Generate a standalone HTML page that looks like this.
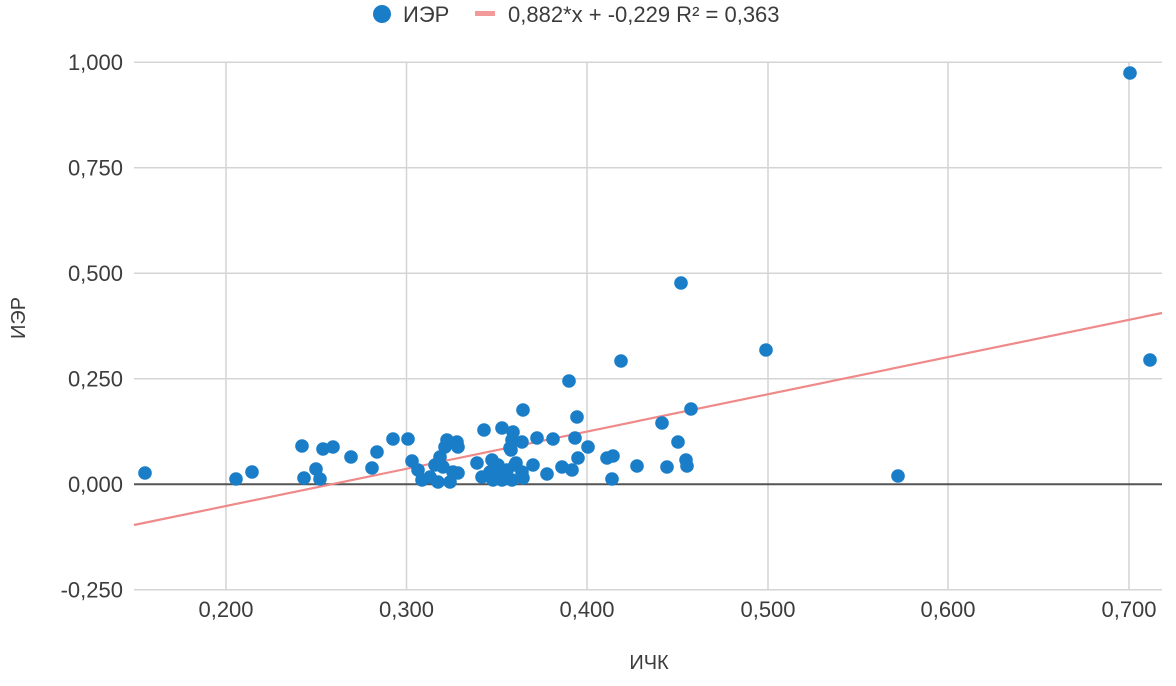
<!DOCTYPE html>
<html><head><meta charset="utf-8">
<style>
html,body{margin:0;padding:0;background:#fff;}
svg{display:block;}
text{font-family:"Liberation Sans",Arial,sans-serif;fill:#3c3c3c;}
</style></head>
<body>
<svg width="1176" height="686" viewBox="0 0 1176 686" xmlns="http://www.w3.org/2000/svg">
<rect width="1176" height="686" fill="#fff"/>
<g stroke="#d4d4d4" stroke-width="1.5">
<line x1="134" y1="62.3" x2="1162" y2="62.3"/>
<line x1="134" y1="167.8" x2="1162" y2="167.8"/>
<line x1="134" y1="273.3" x2="1162" y2="273.3"/>
<line x1="134" y1="378.8" x2="1162" y2="378.8"/>
<line x1="134" y1="589.8" x2="1162" y2="589.8"/>
<line x1="226" y1="62.3" x2="226" y2="589.8"/>
<line x1="406.5" y1="62.3" x2="406.5" y2="589.8"/>
<line x1="587" y1="62.3" x2="587" y2="589.8"/>
<line x1="768" y1="62.3" x2="768" y2="589.8"/>
<line x1="948" y1="62.3" x2="948" y2="589.8"/>
<line x1="1129" y1="62.3" x2="1129" y2="589.8"/>
</g>
<line x1="134" y1="484.3" x2="1162" y2="484.3" stroke="#555" stroke-width="2"/>
<g font-size="22" text-anchor="end">
<text x="123" y="70">1,000</text>
<text x="123" y="175.5">0,750</text>
<text x="123" y="281">0,500</text>
<text x="123" y="386.5">0,250</text>
<text x="123" y="492">0,000</text>
<text x="123" y="597.5">-0,250</text>
</g>
<g font-size="22" text-anchor="middle">
<text x="226" y="617">0,200</text>
<text x="406.5" y="617">0,300</text>
<text x="587" y="617">0,400</text>
<text x="768" y="617">0,500</text>
<text x="948" y="617">0,600</text>
<text x="1129" y="617">0,700</text>
</g>
<text x="649" y="669" font-size="20" text-anchor="middle">ИЧК</text>
<text transform="translate(25,318) rotate(-90)" font-size="20" text-anchor="middle">ИЭР</text>
<circle cx="382" cy="14" r="9" fill="#1a7dc8"/>
<text x="403" y="22" font-size="22">ИЭР</text>
<line x1="475" y1="13.5" x2="495" y2="13.5" stroke="#f29a9a" stroke-width="5"/>
<text x="508" y="22" font-size="22">0,882*x + -0,229 R² = 0,363</text>
<line x1="134" y1="525" x2="1162" y2="313" stroke="#ef8a8a" stroke-width="2.2"/>
<g fill="#1a7dc8">
<circle cx="145" cy="473" r="6.8"/>
<circle cx="236" cy="479" r="6.8"/>
<circle cx="252" cy="472" r="6.8"/>
<circle cx="302" cy="446" r="6.8"/>
<circle cx="304" cy="478" r="6.8"/>
<circle cx="316" cy="469" r="6.8"/>
<circle cx="320" cy="479" r="6.8"/>
<circle cx="323" cy="449" r="6.8"/>
<circle cx="333" cy="447" r="6.8"/>
<circle cx="351" cy="457" r="6.8"/>
<circle cx="372" cy="468" r="6.8"/>
<circle cx="377" cy="452" r="6.8"/>
<circle cx="393" cy="439" r="6.8"/>
<circle cx="408" cy="439" r="6.8"/>
<circle cx="412" cy="461" r="6.8"/>
<circle cx="418" cy="470" r="6.8"/>
<circle cx="422" cy="480" r="6.8"/>
<circle cx="447" cy="440" r="6.8"/>
<circle cx="457" cy="442" r="6.8"/>
<circle cx="458" cy="447" r="6.8"/>
<circle cx="445" cy="447" r="6.8"/>
<circle cx="440" cy="457" r="6.8"/>
<circle cx="435" cy="465" r="6.8"/>
<circle cx="443" cy="467" r="6.8"/>
<circle cx="453" cy="472" r="6.8"/>
<circle cx="430" cy="477" r="6.8"/>
<circle cx="438" cy="482" r="6.8"/>
<circle cx="450" cy="482" r="6.8"/>
<circle cx="458" cy="473" r="6.8"/>
<circle cx="484" cy="430" r="6.8"/>
<circle cx="477" cy="463" r="6.8"/>
<circle cx="482" cy="477" r="6.8"/>
<circle cx="492" cy="460" r="6.8"/>
<circle cx="502" cy="428" r="6.8"/>
<circle cx="513" cy="432" r="6.8"/>
<circle cx="512" cy="440" r="6.8"/>
<circle cx="522" cy="442" r="6.8"/>
<circle cx="510" cy="448" r="6.8"/>
<circle cx="490" cy="472" r="6.8"/>
<circle cx="498" cy="465" r="6.8"/>
<circle cx="505" cy="473" r="6.8"/>
<circle cx="515" cy="465" r="6.8"/>
<circle cx="522" cy="472" r="6.8"/>
<circle cx="493" cy="480" r="6.8"/>
<circle cx="512" cy="480" r="6.8"/>
<circle cx="523" cy="478" r="6.8"/>
<circle cx="502" cy="480" r="6.8"/>
<circle cx="533" cy="465" r="6.8"/>
<circle cx="537" cy="438" r="6.8"/>
<circle cx="523" cy="410" r="6.8"/>
<circle cx="553" cy="439" r="6.8"/>
<circle cx="547" cy="474" r="6.8"/>
<circle cx="562" cy="467" r="6.8"/>
<circle cx="572" cy="470" r="6.8"/>
<circle cx="577" cy="417" r="6.8"/>
<circle cx="575" cy="438" r="6.8"/>
<circle cx="588" cy="447" r="6.8"/>
<circle cx="578" cy="458" r="6.8"/>
<circle cx="607" cy="458" r="6.8"/>
<circle cx="613" cy="456" r="6.8"/>
<circle cx="612" cy="479" r="6.8"/>
<circle cx="637" cy="466" r="6.8"/>
<circle cx="667" cy="467" r="6.8"/>
<circle cx="686" cy="460" r="6.8"/>
<circle cx="687" cy="466" r="6.8"/>
<circle cx="678" cy="442" r="6.8"/>
<circle cx="662" cy="423" r="6.8"/>
<circle cx="691" cy="409" r="6.8"/>
<circle cx="569" cy="381" r="6.8"/>
<circle cx="621" cy="361" r="6.8"/>
<circle cx="681" cy="283" r="6.8"/>
<circle cx="766" cy="350" r="6.8"/>
<circle cx="898" cy="476" r="6.8"/>
<circle cx="1130" cy="73" r="6.8"/>
<circle cx="1150" cy="360" r="6.8"/>
<circle cx="511" cy="450" r="6.8"/>
<circle cx="516" cy="463" r="6.8"/>
<circle cx="495" cy="470" r="6.8"/>
<circle cx="507" cy="470" r="6.8"/>
</g>
</svg>
</body></html>
